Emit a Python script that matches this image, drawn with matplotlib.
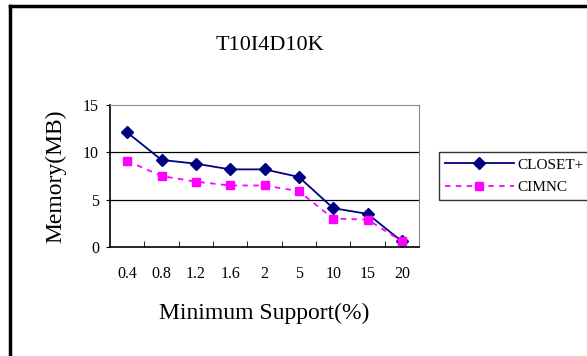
import numpy as np
import matplotlib
matplotlib.use('Agg')
import matplotlib.pyplot as plt
from matplotlib.lines import Line2D

#%% Datos
support = ['0.4', '0.8', '1.2', '1.6', '2', '5', '10', '15', '20']
closet = [12.1, 9.2, 8.8, 8.2, 8.2, 7.4, 4.1, 3.5, 0.6]
cimnc = [9.1, 7.5, 6.9, 6.5, 6.5, 5.9, 3.0, 2.9, 0.6]

plt.rcParams['font.family'] = ['Liberation Serif', 'DejaVu Serif']

#%% Graficar
fig = plt.figure(figsize=(5.87, 3.56), dpi=100)
ax = fig.add_axes([110/587, 1-247/356, 309/587, 142/356])

x = np.arange(len(support))
ax.plot(x, closet, color='#000080', lw=1.3, marker='D', ms=6, label='CLOSET+')
ax.plot(x, cimnc, color='#FF00FF', lw=1.3, ls=(0, (3, 3)), marker='s', ms=6, label='CIMNC')

ax.set_xlim(-0.5, len(support) - 0.5)
ax.set_ylim(0, 15)
ax.set_yticks([0, 5, 10, 15])
ax.set_xticks(x)
ax.set_xticklabels(support)
ax.set_xticks(np.arange(0.5, len(support) - 1, 1), minor=True)
ax.tick_params(axis='x', which='major', length=0, labelsize=11.5, pad=14)
ax.tick_params(axis='x', which='minor', direction='in', length=4, color='black')
ax.tick_params(axis='y', length=3, labelsize=11.5, pad=5)

for y in [5, 10]:
    ax.axhline(y, color='black', lw=0.9, zorder=0)

ax.spines['top'].set_color('#888888')
ax.spines['right'].set_color('#888888')
ax.spines['left'].set_linewidth(1.2)
ax.spines['bottom'].set_linewidth(1.2)

ax.set_xlabel('Minimum Support(%)', fontsize=17, labelpad=15)
ax.set_ylabel('Memory(MB)', fontsize=17, labelpad=12)
fig.text(270/587, 1-45/356, 'T10I4D10K', fontsize=16, ha='center', va='center')

leg = fig.legend(loc='upper left', bbox_to_anchor=(439/587, 1-152/356), frameon=True,
                 fancybox=False, edgecolor='black', fontsize=11, handlelength=4.5,
                 borderaxespad=0, borderpad=0.4, labelspacing=0.55, handletextpad=0.2)
leg.get_frame().set_linewidth(1.0)

# marco de la figura
fig.add_artist(Line2D([9.5/587, 9.5/587], [0, 1-5.5/356], color='black', lw=2.5))
fig.add_artist(Line2D([9.5/587, 1], [1-5.5/356, 1-5.5/356], color='black', lw=2.5))

plt.savefig('out.png', dpi=100)
